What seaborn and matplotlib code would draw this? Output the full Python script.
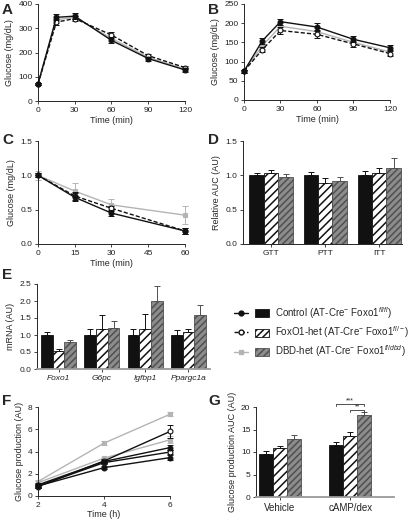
import matplotlib
matplotlib.use("Agg")
import matplotlib.pyplot as plt
import numpy as np
import pandas as pd
import seaborn as sns
from matplotlib.lines import Line2D
from matplotlib.patches import Patch
from matplotlib.legend_handler import HandlerTuple

# ---- data ----
groups = ["Control", "FoxO1-het", "DBD-het"]

# A: GTT
gtt_time = [0, 15, 30, 60, 90, 120]
gtt_ctrl = [70, 345, 350, 250, 175, 128]
gtt_het = [70, 325, 340, 272, 187, 138]
gtt_dbd = [70, 335, 345, 258, 180, 132]
gtt_err = [5, 12, 12, 12, 8, 8]

# B: PTT
ptt_time = [0, 15, 30, 60, 90, 120]
ptt_ctrl = [75, 154, 204, 190, 158, 136]
ptt_het = [75, 131, 181, 171, 146, 121]
ptt_dbd = [75, 141, 192, 178, 150, 125]
ptt_err = [4, 7, 8, 10, 8, 7]

# C: ITT
itt_time = [0, 15, 30, 60]
itt_ctrl = [1.0, 0.68, 0.45, 0.19]
itt_het = [1.0, 0.70, 0.52, 0.19]
itt_dbd = [1.0, 0.77, 0.57, 0.42]
itt_err = [0.03, 0.06, 0.04, 0.04]
itt_err_dbd = [0.07, 0.12, 0.08, 0.13]

# D: relative AUC
auc_cats = ["GTT", "PTT", "ITT"]
auc_ctrl = [1.00, 1.00, 1.00]
auc_het = [1.03, 0.89, 1.03]
auc_dbd = [0.97, 0.92, 1.11]
auc_ctrl_err = [0.04, 0.05, 0.06]
auc_het_err = [0.05, 0.07, 0.07]
auc_dbd_err = [0.05, 0.05, 0.14]

# E: mRNA
genes = ["Foxo1", "G6pc", "Igfbp1", "Ppargc1a"]
mrna_ctrl = [1.0, 1.0, 1.0, 1.0]
mrna_het = [0.53, 1.17, 1.17, 1.08]
mrna_dbd = [0.80, 1.22, 2.00, 1.60]
mrna_ctrl_err = [0.08, 0.19, 0.19, 0.15]
mrna_het_err = [0.06, 0.42, 0.44, 0.11]
mrna_dbd_err = [0.05, 0.19, 0.45, 0.28]

# F: glucose production time course (vehicle / cAMP-dex)
gp_time = [2, 4, 6]
gp_ctrl_veh = [0.9, 2.55, 3.45]
gp_het_veh = [0.9, 3.0, 3.95]
gp_dbd_veh = [1.2, 3.4, 5.05]
gp_ctrl_camp = [1.0, 3.1, 4.35]
gp_het_camp = [0.85, 3.15, 5.8]
gp_dbd_camp = [1.3, 4.75, 7.35]
gp_err = [0.15, 0.15, 0.2]
gp_err_dbd_veh = [0.15, 0.15, 0.3]
gp_err_big = [0.15, 0.2, 0.55]

# G: glucose production AUC
gp_cats = ["Vehicle", "cAMP/dex"]
gpa_ctrl = [9.6, 11.6]
gpa_het = [11.0, 13.6]
gpa_dbd = [12.8, 18.2]
gpa_ctrl_err = [0.6, 0.7]
gpa_het_err = [0.3, 0.9]
gpa_dbd_err = [0.9, 0.8]

# ---- style ----
sns.set_style("ticks")
plt.rcParams["font.family"] = ["Liberation Sans", "DejaVu Sans"]
plt.rcParams["mathtext.fontset"] = "custom"
plt.rcParams["mathtext.rm"] = "Liberation Sans"
plt.rcParams["mathtext.it"] = "Liberation Sans:italic"
plt.rcParams["hatch.linewidth"] = 1.1
plt.rcParams["axes.linewidth"] = 0.7
plt.rcParams["xtick.major.size"] = 2.5
plt.rcParams["ytick.major.size"] = 2.5
plt.rcParams["xtick.major.width"] = 0.6
plt.rcParams["ytick.major.width"] = 0.6
plt.rcParams["xtick.major.pad"] = 1.5
plt.rcParams["ytick.major.pad"] = 1.5
plt.rcParams["xtick.labelsize"] = 6
plt.rcParams["ytick.labelsize"] = 6
plt.rcParams["axes.labelsize"] = 6.5

BLACK = "#111111"
GRAY = "#b4b4b4"
BAR_GRAY = "#8c8c8c"

STYLES = {
    "Control": dict(color=BLACK, marker="o", mfc=BLACK, ls="-"),
    "FoxO1-het": dict(color=BLACK, marker="o", mfc="white", ls=(0, (3, 1.5))),
    "DBD-het": dict(color=GRAY, marker="s", mfc=GRAY, ls="-"),
}

W, H = 410, 520
fig = plt.figure(figsize=(W / 100, H / 100), dpi=100)


def add_ax(left, top, right, bottom):
    return fig.add_axes([left / W, 1 - bottom / H, (right - left) / W, (bottom - top) / H])


def line_series(ax, x, y, err, group, ms=3.5, z=3, solid=False):
    st = STYLES[group]
    ax.errorbar(x, y, yerr=err, fmt="none", ecolor=st["color"], elinewidth=0.7,
                capsize=2, capthick=0.7, zorder=z - 0.5, clip_on=False)
    sns.lineplot(x=x, y=y, color=st["color"], marker=st["marker"], markersize=ms,
                 markerfacecolor=st["mfc"], markeredgecolor=st["color"],
                 markeredgewidth=0.8, linestyle="-" if solid else st["ls"],
                 linewidth=1.0, ax=ax, zorder=z, clip_on=False, legend=False)


def bar_panel(ax, cats, vals, errs, width):
    df = pd.DataFrame({
        "cat": cats * 3,
        "group": [g for g in groups for _ in cats],
        "value": vals[0] + vals[1] + vals[2],
    })
    sns.barplot(data=df, x="cat", y="value", hue="group", hue_order=groups,
                palette=[BLACK, "white", BAR_GRAY], width=width, errorbar=None,
                legend=False, ax=ax, linewidth=0.6, saturation=1)
    n = len(cats)
    for i, p in enumerate(ax.patches):
        g = i // n
        if g == 0:
            p.set_edgecolor(BLACK)
        elif g == 1:
            p.set_edgecolor(BLACK)
            p.set_hatch("////")
        else:
            p.set_edgecolor("#505050")
            p.set_hatch("/////")
        x = p.get_x() + p.get_width() / 2
        e = errs[g][i % n]
        ax.errorbar([x], [p.get_height()], yerr=[[0], [e]], fmt="none",
                    ecolor="#505050" if g == 2 else BLACK, elinewidth=0.7,
                    capsize=2.2, capthick=0.7, zorder=1)
    ax.set_xlabel("")


def finish(ax):
    sns.despine(ax=ax)
    ax.tick_params(colors="#222222")


# A
axA = add_ax(38, 4, 185, 101)
line_series(axA, gtt_time, gtt_dbd, gtt_err, "DBD-het", z=2)
line_series(axA, gtt_time, gtt_het, gtt_err, "FoxO1-het", z=3)
line_series(axA, gtt_time, gtt_ctrl, gtt_err, "Control", z=4)
axA.set_xlim(0, 120)
axA.set_ylim(0, 400)
axA.set_xticks([0, 30, 60, 90, 120])
axA.set_yticks([0, 100, 200, 300, 400])
axA.set_xlabel("Time (min)", labelpad=1.5)
axA.set_ylabel("Glucose (mg/dL)", labelpad=3)
finish(axA)

# B
axB = add_ax(244, 4, 390, 100)
line_series(axB, ptt_time, ptt_dbd, ptt_err, "DBD-het", z=2)
line_series(axB, ptt_time, ptt_het, ptt_err, "FoxO1-het", z=3)
line_series(axB, ptt_time, ptt_ctrl, ptt_err, "Control", z=4)
axB.set_xlim(0, 120)
axB.set_ylim(0, 250)
axB.set_xticks([0, 30, 60, 90, 120])
axB.set_yticks([0, 50, 100, 150, 200, 250])
axB.set_xlabel("Time (min)", labelpad=1.5)
axB.set_ylabel("Glucose (mg/dL)", labelpad=3)
finish(axB)

# C
axC = add_ax(38, 141, 185, 244)
line_series(axC, itt_time, itt_dbd, itt_err_dbd, "DBD-het", z=2)
line_series(axC, itt_time, itt_het, itt_err, "FoxO1-het", z=3)
line_series(axC, itt_time, itt_ctrl, itt_err, "Control", z=4)
axC.set_xlim(0, 60)
axC.set_ylim(0, 1.5)
axC.set_xticks([0, 15, 30, 45, 60])
axC.set_yticks([0, 0.5, 1.0, 1.5])
axC.set_yticklabels(["0.0", "0.5", "1.0", "1.5"])
axC.set_xlabel("Time (min)", labelpad=1.5)
axC.set_ylabel("Glucose (mg/dL)", labelpad=3)
finish(axC)

# D
axD = add_ax(243, 141, 402, 244)
bar_panel(axD, auc_cats, [auc_ctrl, auc_het, auc_dbd],
          [auc_ctrl_err, auc_het_err, auc_dbd_err], 0.8)
axD.set_xlim(-0.52, 2.42)
axD.set_ylim(0, 1.5)
axD.set_yticks([0, 0.5, 1.0, 1.5])
axD.set_yticklabels(["0.0", "0.5", "1.0", "1.5"])
axD.set_ylabel("Relative AUC (AU)", labelpad=3)
finish(axD)

# E
axE = add_ax(37, 284, 210, 369)
bar_panel(axE, genes, [mrna_ctrl, mrna_het, mrna_dbd],
          [mrna_ctrl_err, mrna_het_err, mrna_dbd_err], 0.81)
axE.set_xlim(-0.5, 3.5)
axE.set_ylim(0, 2.5)
axE.set_yticks([0, 0.5, 1.0, 1.5, 2.0, 2.5])
axE.set_yticklabels(["0.0", "0.5", "1.0", "1.5", "2.0", "2.5"])
for t in axE.get_xticklabels():
    t.set_fontstyle("italic")
axE.set_ylabel("mRNA (AU)", labelpad=3)
finish(axE)
axE.spines["bottom"].set_color("#9a9a9a")
axE.spines["bottom"].set_linewidth(1.3)

# F
axF = add_ax(38, 407, 170, 496)
line_series(axF, gp_time, gp_dbd_camp, gp_err, "DBD-het", z=2)
line_series(axF, gp_time, gp_dbd_veh, gp_err_dbd_veh, "DBD-het", z=2)
line_series(axF, gp_time, gp_het_camp, gp_err_big, "FoxO1-het", z=3, solid=True)
line_series(axF, gp_time, gp_het_veh, gp_err, "FoxO1-het", z=3, solid=True)
line_series(axF, gp_time, gp_ctrl_camp, gp_err, "Control", z=4)
line_series(axF, gp_time, gp_ctrl_veh, gp_err, "Control", z=4)
axF.set_xlim(2, 6)
axF.set_ylim(0, 8)
axF.set_xticks([2, 4, 6])
axF.set_yticks([0, 2, 4, 6, 8])
axF.set_xlabel("Time (h)", labelpad=1)
axF.set_ylabel("Glucose production (AU)", labelpad=3)
finish(axF)

# G
axG = add_ax(256, 407, 394, 497)
bar_panel(axG, gp_cats, [gpa_ctrl, gpa_het, gpa_dbd],
          [gpa_ctrl_err, gpa_het_err, gpa_dbd_err], 0.6)
axG.set_xlim(-0.34, 1.62)
axG.set_ylim(0, 20)
axG.set_yticks([0, 5, 10, 15, 20])
axG.set_ylabel("Glucose production AUC (AU)", labelpad=3)
finish(axG)
axG.spines["bottom"].set_color("#9a9a9a")
axG.spines["bottom"].set_linewidth(1.3)
axG.tick_params(axis="x", labelsize=7)
# significance brackets (cAMP/dex group)
bars = axG.patches
xc = [bars[k].get_x() + bars[k].get_width() / 2 for k in (1, 3, 5)]
for (x0, x1, y, label) in [(xc[0], xc[2], 20.6, "***"), (xc[1], xc[2], 19.3, "**")]:
    axG.plot([x0, x0, x1, x1], [y - 0.3, y, y, y - 0.3], color="#333333",
             lw=0.6, clip_on=False)
    axG.text((x0 + x1) / 2, y + 0.05, label, ha="center", va="bottom",
             fontsize=5, clip_on=False)

# panel letters
for letter, (x, y) in {"A": (2, 3), "B": (208, 3), "C": (2, 133), "D": (208, 133),
                       "E": (2, 268), "F": (2, 394), "G": (208, 394)}.items():
    fig.text(x / W, 1 - y / H, letter, fontsize=11, fontweight="bold",
             ha="left", va="top")

# legend
handles = []
for g, fc in zip(groups, [BLACK, "white", BAR_GRAY]):
    st = STYLES[g]
    ln = Line2D([], [], color=st["color"], marker=st["marker"], markersize=3.5,
                markerfacecolor=st["mfc"], markeredgecolor=st["color"],
                linestyle=st["ls"], linewidth=1.0)
    hatch = None if g == "Control" else "/////"
    ec = "#505050" if g == "DBD-het" else BLACK
    pt = Patch(facecolor=fc, edgecolor=ec, hatch=hatch, linewidth=0.6)
    handles.append((ln, pt))
labels = [
    r"Control (AT-Cre$^{-}$ Foxo1$^{\mathit{fl/fl}}$)",
    r"FoxO1-het (AT-Cre$^{-}$ Foxo1$^{\mathit{fl/-}}$)",
    r"DBD-het (AT-Cre$^{-}$ Foxo1$^{\mathit{fl/dbd}}$)",
]
fig.legend(handles, labels, handler_map={tuple: HandlerTuple(ndivide=None, pad=0.8)},
           loc="upper left", bbox_to_anchor=(234 / W, 1 - 305 / H), frameon=False,
           fontsize=7, handlelength=3.6, handleheight=0.9, labelspacing=0.35,
           handletextpad=0.6, borderaxespad=0, borderpad=0)

fig.savefig("out.png", dpi=100)
